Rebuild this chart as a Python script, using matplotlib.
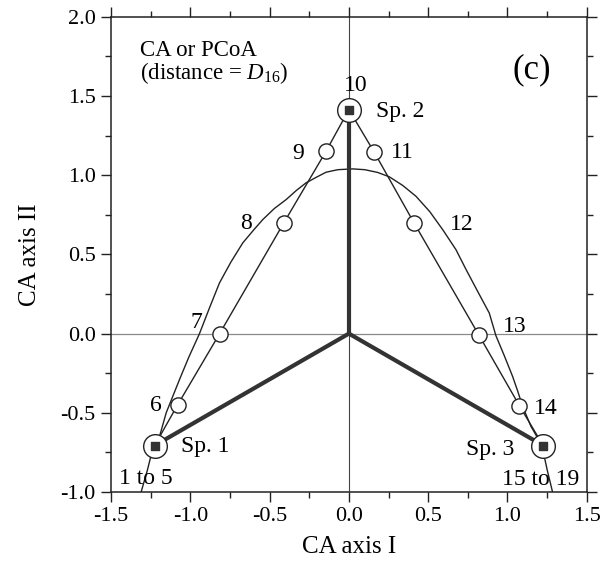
import matplotlib
matplotlib.use("Agg")
import matplotlib.pyplot as plt
from matplotlib.ticker import MultipleLocator, FormatStrFormatter

plt.rcParams['font.family'] = ['Liberation Serif', 'DejaVu Serif']
plt.rcParams['mathtext.fontset'] = 'custom'
plt.rcParams['mathtext.rm'] = 'Liberation Serif'
plt.rcParams['mathtext.it'] = 'Liberation Serif:italic'

# Species scores
species_names = ["Sp. 1", "Sp. 2", "Sp. 3"]
species_x = [-1.225, 0.0, 1.225]
species_y = [-0.707, 1.414, -0.707]

# Site scores along the triangle (sites 1-5 on Sp. 1, 10 on Sp. 2, 15-19 on Sp. 3)
site_labels = ["1 to 5", "6", "7", "8", "9", "10", "11", "12", "13", "14", "15 to 19"]
site_x = [-1.225, -1.08, -0.815, -0.41, -0.145, 0.0, 0.16, 0.41, 0.82, 1.075, 1.225]
site_y = [-0.707, -0.45, 0.0, 0.70, 1.15, 1.414, 1.145, 0.70, -0.01, -0.455, -0.707]

# Arch traced by the second solution
arch_x = [-1.31, -1.27, -1.235, -1.194, -1.152, -1.11, -1.068, -1.01, -0.942, -0.88,
          -0.816, -0.745, -0.669, -0.60, -0.543, -0.47, -0.396, -0.33, -0.27, -0.20,
          -0.144, -0.07, 0.024, 0.10, 0.18, 0.255, 0.34, 0.423, 0.51, 0.591, 0.675,
          0.739, 0.81, 0.885, 0.927, 0.98, 1.032, 1.065, 1.095, 1.148, 1.185, 1.22,
          1.25, 1.284]
arch_y = [-1.0, -0.86, -0.72, -0.649, -0.5, -0.395, -0.29, -0.15, 0.0, 0.16, 0.32,
          0.45, 0.573, 0.655, 0.72, 0.79, 0.846, 0.905, 0.952, 0.99, 1.019, 1.035,
          1.04, 1.035, 1.018, 0.99, 0.935, 0.867, 0.77, 0.657, 0.53, 0.404, 0.27,
          0.13, -0.013, -0.14, -0.27, -0.365, -0.459, -0.586, -0.65, -0.72, -0.86,
          -1.0]

fig = plt.figure(figsize=(6.0, 5.62), dpi=100)
ax = fig.add_axes([0.185, 0.1246, 0.793, 0.8454])
ax.set_xlim(-1.5, 1.5)
ax.set_ylim(-1.0, 2.0)

ax.axhline(0, color="#8a8a8a", lw=0.9, zorder=1)
ax.axvline(0, color="#444444", lw=0.8, zorder=1)

# Arch
ax.plot(arch_x, arch_y, color="#222222", lw=1.0, zorder=2)

# Triangle of sites
ax.plot(site_x, site_y, color="#222222", lw=1.0, zorder=2)

# Species vectors from the origin
for sx, sy in zip(species_x, species_y):
    ax.plot([0, sx], [0, sy], color="#333333", lw=3.0, solid_capstyle="butt", zorder=3)

# Site circles (interior sites)
ax.scatter(site_x[1:-1], site_y[1:-1], s=120, facecolor="white",
           edgecolor="#222222", linewidth=1.0, zorder=4)
# Species: circle with a filled square
ax.scatter(species_x, species_y, s=290, facecolor="white",
           edgecolor="#222222", linewidth=1.0, zorder=5)
ax.scatter(species_x, species_y, s=36, marker="s", color="#333333", zorder=6)

fs = 17
# Site number labels
site_label_pos = {
    "1 to 5": (-1.278, -0.916),
    "6": (-1.215, -0.455),
    "7": (-0.96, 0.07),
    "8": (-0.648, 0.695),
    "9": (-0.318, 1.14),
    "10": (0.045, 1.567),
    "11": (0.34, 1.143),
    "12": (0.712, 0.689),
    "13": (1.043, 0.046),
    "14": (1.243, -0.47),
    "15 to 19": (1.211, -0.922),
}
for lab in site_labels:
    x, y = site_label_pos[lab]
    ax.text(x, y, lab, fontsize=fs, ha="center", va="center", zorder=7)

species_label_pos = [(-1.057, -0.712, "left"), (0.171, 1.402, "left"), (1.043, -0.733, "right")]
for name, (x, y, ha) in zip(species_names, species_label_pos):
    ax.text(x, y, name, fontsize=fs, ha=ha, va="center", zorder=7)

ax.text(-1.32, 1.79, "CA or PCoA", fontsize=16.5, ha="left", va="center")
ax.text(-1.32, 1.645, "(distance = $D_{16}$)", fontsize=16.5, ha="left", va="center")
ax.text(1.156, 1.668, "(c)", fontsize=25, ha="center", va="center")

ax.xaxis.set_major_locator(MultipleLocator(0.5))
ax.xaxis.set_minor_locator(MultipleLocator(0.25))
ax.yaxis.set_major_locator(MultipleLocator(0.5))
ax.yaxis.set_minor_locator(MultipleLocator(0.25))
ax.xaxis.set_major_formatter(FormatStrFormatter("%.1f"))
ax.yaxis.set_major_formatter(FormatStrFormatter("%.1f"))
ax.tick_params(which="both", direction="out", top=True, right=True,
               labeltop=False, labelright=False, color="#222222", width=1.0)
ax.tick_params(which="major", length=7, labelsize=16, pad=4)
ax.tick_params(which="minor", length=4)
for sp in ax.spines.values():
    sp.set_linewidth(1.1)
    sp.set_color("#222222")

ax.set_xlabel("CA axis I", fontsize=18)
ax.set_ylabel("CA axis II", fontsize=18)
ax.xaxis.set_label_coords(0.5, -0.093)
ax.yaxis.set_label_coords(-0.148, 0.5)

fig.savefig("out.png", dpi=100, facecolor="white")
